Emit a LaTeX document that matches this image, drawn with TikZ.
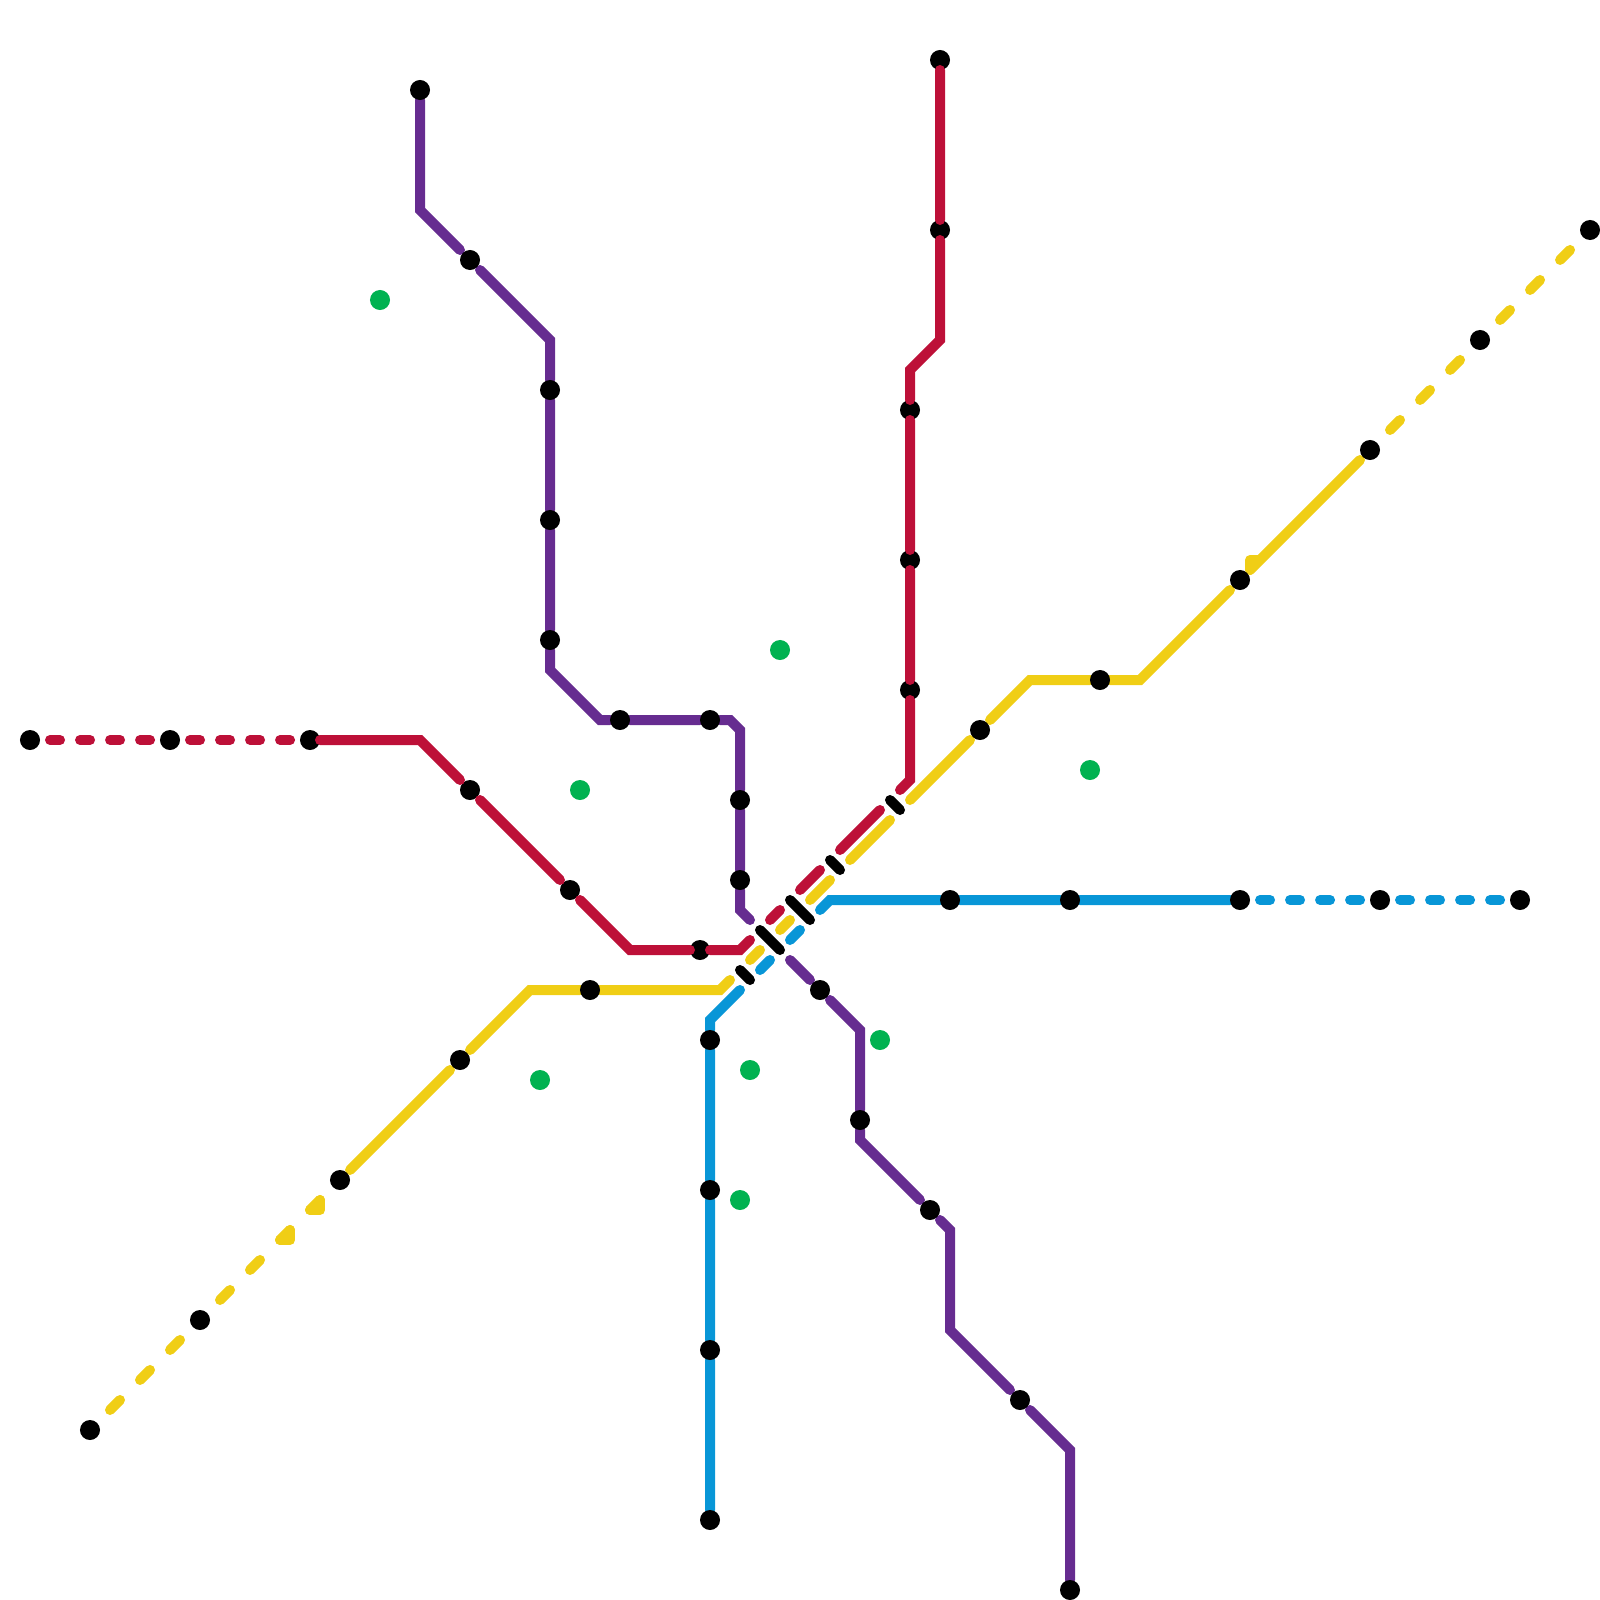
\documentclass[tikz,border=0pt]{standalone}
\usetikzlibrary{backgrounds}

\definecolor{linered}{HTML}{BD1038}
\definecolor{linepurple}{HTML}{662C90}
\definecolor{lineyellow}{HTML}{F0CE15}
\definecolor{lineblue}{HTML}{0896D7}
\definecolor{hubgreen}{HTML}{00B251}

\begin{document}
\begin{tikzpicture}[
  x = 0.01cm, y = -0.01cm,
  stop/.style = {
    circle, fill = black,
    inner sep = 0pt, outer sep = 0pt,
    minimum size = 2mm
  },
  diagstop/.style = {stop, outer sep = 0.414mm},
  hub/.style = {stop, fill = hubgreen},
  tube/.style = {line width = 1mm, line cap = round},
  hdash/.style = {dash pattern = on 1mm off 2mm, dash phase = 2mm},
  ddash/.style = {dash pattern = on 1.414mm off 2.828mm, dash phase = 2.828mm},
  bar/.style = {tube, draw = black}
]
  \useasboundingbox (0,0) rectangle (1600,1600);

  % Stationen
  \node[stop]     (r1)  at (30,740)   {};
  \node[stop]     (r2)  at (170,740)  {};
  \node[stop]     (r3)  at (310,740)  {};
  \node[diagstop] (r4)  at (470,790)  {};
  \node[diagstop] (r5)  at (570,890)  {};
  \node[stop]     (r6)  at (700,950)  {};
  \node[stop]     (r7)  at (910,690)  {};
  \node[stop]     (r8)  at (910,560)  {};
  \node[stop]     (r9)  at (910,410)  {};
  \node[stop]     (r10) at (940,230)  {};
  \node[stop]     (r11) at (940,60)   {};

  \node[stop]     (p1)  at (420,90)   {};
  \node[diagstop] (p2)  at (470,260)  {};
  \node[stop]     (p3)  at (550,390)  {};
  \node[stop]     (p4)  at (550,520)  {};
  \node[stop]     (p5)  at (550,640)  {};
  \node[stop]     (p6)  at (620,720)  {};
  \node[stop]     (p7)  at (710,720)  {};
  \node[stop]     (p8)  at (740,800)  {};
  \node[stop]     (p9)  at (740,880)  {};
  \node[diagstop] (p10) at (820,990)  {};
  \node[stop]     (p11) at (860,1120) {};
  \node[diagstop] (p12) at (930,1210) {};
  \node[diagstop] (p13) at (1020,1400) {};
  \node[stop]     (p14) at (1070,1590) {};

  \node[diagstop] (y1)  at (90,1430)  {};
  \node[diagstop] (y2)  at (200,1320) {};
  \node[diagstop] (y3)  at (340,1180) {};
  \node[diagstop] (y4)  at (460,1060) {};
  \node[stop]     (y5)  at (590,990)  {};
  \node[diagstop] (y6)  at (980,730)  {};
  \node[stop]     (y7)  at (1100,680) {};
  \node[diagstop] (y8)  at (1240,580) {};
  \node[diagstop] (y9)  at (1370,450) {};
  \node[diagstop] (y10) at (1480,340) {};
  \node[diagstop] (y11) at (1590,230) {};

  \node[stop]     (b1)  at (710,1040) {};
  \node[stop]     (b2)  at (710,1190) {};
  \node[stop]     (b3)  at (710,1350) {};
  \node[stop]     (b4)  at (710,1520) {};
  \node[stop]     (b5)  at (950,900)  {};
  \node[stop]     (b6)  at (1070,900) {};
  \node[stop]     (b7)  at (1240,900) {};
  \node[stop]     (b8)  at (1380,900) {};
  \node[stop]     (b9)  at (1520,900) {};

  % Umstiege
  \node[hub] (g1) at (380,300)  {};
  \node[hub] (g2) at (580,790)  {};
  \node[hub] (g3) at (540,1080) {};
  \node[hub] (g4) at (780,650)  {};
  \node[hub] (g5) at (880,1040) {};
  \node[hub] (g6) at (750,1070) {};
  \node[hub] (g7) at (740,1200) {};
  \node[hub] (g8) at (1090,770) {};

  % Knicke rot
  \coordinate (ra) at (420,740);
  \coordinate (rb) at (630,950);
  \coordinate (rc) at (740,950);
  \coordinate (rd) at (750,940);
  \coordinate (re) at (770,920);
  \coordinate (rf) at (780,910);
  \coordinate (rg) at (800,890);
  \coordinate (rh) at (820,870);
  \coordinate (ri) at (840,850);
  \coordinate (rj) at (880,810);
  \coordinate (rk) at (900,790);
  \coordinate (rl) at (910,780);
  \coordinate (rm) at (910,370);
  \coordinate (rn) at (940,340);

  % Knicke lila
  \coordinate (pa) at (420,210);
  \coordinate (pb) at (550,340);
  \coordinate (pc) at (550,670);
  \coordinate (pd) at (600,720);
  \coordinate (pe) at (730,720);
  \coordinate (pf) at (740,730);
  \coordinate (pg) at (740,910);
  \coordinate (ph) at (750,920);
  \coordinate (pi) at (790,960);
  \coordinate (pj) at (860,1030);
  \coordinate (pk) at (860,1140);
  \coordinate (pl) at (950,1230);
  \coordinate (pm) at (950,1330);
  \coordinate (pn) at (1070,1450);

  % Knicke gelb
  \coordinate (ya) at (530,990);
  \coordinate (yb) at (720,990);
  \coordinate (yc) at (730,980);
  \coordinate (yd) at (750,960);
  \coordinate (ye) at (760,950);
  \coordinate (yf) at (780,930);
  \coordinate (yg) at (790,920);
  \coordinate (yh) at (810,900);
  \coordinate (yi) at (830,880);
  \coordinate (yj) at (850,860);
  \coordinate (yk) at (890,820);
  \coordinate (yl) at (910,800);
  \coordinate (ym) at (1030,680);
  \coordinate (yn) at (1140,680);
  \coordinate (yo) at (1250,570);
  \coordinate (yp) at (1250,560);
  \coordinate (yq) at (1260,560);
  \coordinate (yr) at (280,1240);
  \coordinate (ys) at (290,1240);
  \coordinate (yt) at (290,1230);
  \coordinate (yu) at (310,1210);
  \coordinate (yv) at (320,1210);
  \coordinate (yw) at (320,1200);

  % Knicke blau
  \coordinate (ba) at (740,990);
  \coordinate (bb) at (710,1020);
  \coordinate (bc) at (760,970);
  \coordinate (bd) at (770,960);
  \coordinate (be) at (790,940);
  \coordinate (bf) at (800,930);
  \coordinate (bg) at (820,910);
  \coordinate (bh) at (830,900);

  % Sperren
  \coordinate (sa) at (740,970);
  \coordinate (sb) at (750,980);
  \coordinate (sc) at (760,930);
  \coordinate (sd) at (780,950);
  \coordinate (se) at (790,900);
  \coordinate (sf) at (810,920);
  \coordinate (sg) at (830,860);
  \coordinate (sh) at (840,870);
  \coordinate (si) at (890,800);
  \coordinate (sj) at (900,810);

  % Linien
  \begin{scope}[on background layer]
    \draw[tube, linepurple] (p1) -- (pa) -- (p2) -- (pb) -- (p3) -- (p4) -- (p5)
      -- (pc) -- (pd) -- (p6) -- (p7) -- (pe) -- (pf) -- (p8) -- (p9) -- (pg) -- (ph);
    \draw[tube, linepurple] (pi) -- (p10) -- (pj) -- (p11) -- (pk) -- (p12) -- (pl)
      -- (pm) -- (p13) -- (pn) -- (p14);

    \draw[tube, lineyellow, ddash] (y1) -- (y2) -- (y3);
    \draw[tube, lineyellow, ddash] (y9) -- (y10) -- (y11);
    \draw[tube, lineyellow, line join = round] (yr) -- (ys) -- (yt);
    \draw[tube, lineyellow, line join = round] (yu) -- (yv) -- (yw);
    \draw[tube, lineyellow] (y3) -- (y4) -- (ya) -- (y5) -- (yb) -- (yc);
    \draw[tube, lineyellow] (yd) -- (ye);
    \draw[tube, lineyellow] (yf) -- (yg);
    \draw[tube, lineyellow] (yh) -- (yi);
    \draw[tube, lineyellow] (yj) -- (yk);
    \draw[tube, lineyellow] (yl) -- (y6) -- (ym) -- (y7) -- (yn) -- (y8);
    \draw[tube, lineyellow, line join = round] (yq) -- (yo) -- (yp) -- (yq) -- (y9);

    \draw[tube, lineblue] (ba) -- (bb) -- (b1) -- (b2) -- (b3) -- (b4);
    \draw[tube, lineblue] (bc) -- (bd);
    \draw[tube, lineblue] (be) -- (bf);
    \draw[tube, lineblue] (bg) -- (bh) -- (b5) -- (b6) -- (b7);
    \draw[tube, lineblue, hdash] (b7) -- (b8) -- (b9);
  \end{scope}

  \draw[tube, linered, hdash] (r1) -- (r2) -- (r3);
  \draw[tube, linered] (r3) -- (ra) -- (r4) -- (r5) -- (rb) -- (r6) -- (rc) -- (rd);
  \draw[tube, linered] (re) -- (rf);
  \draw[tube, linered] (rg) -- (rh);
  \draw[tube, linered] (ri) -- (rj);
  \draw[tube, linered] (rk) -- (rl) -- (r7) -- (r8) -- (r9) -- (rm) -- (rn) -- (r10) -- (r11);

  % Sperren zeichnen
  \draw[bar] (sa) -- (sb);
  \draw[bar] (sc) -- (sd);
  \draw[bar] (se) -- (sf);
  \draw[bar] (sg) -- (sh);
  \draw[bar] (si) -- (sj);
\end{tikzpicture}
\end{document}
